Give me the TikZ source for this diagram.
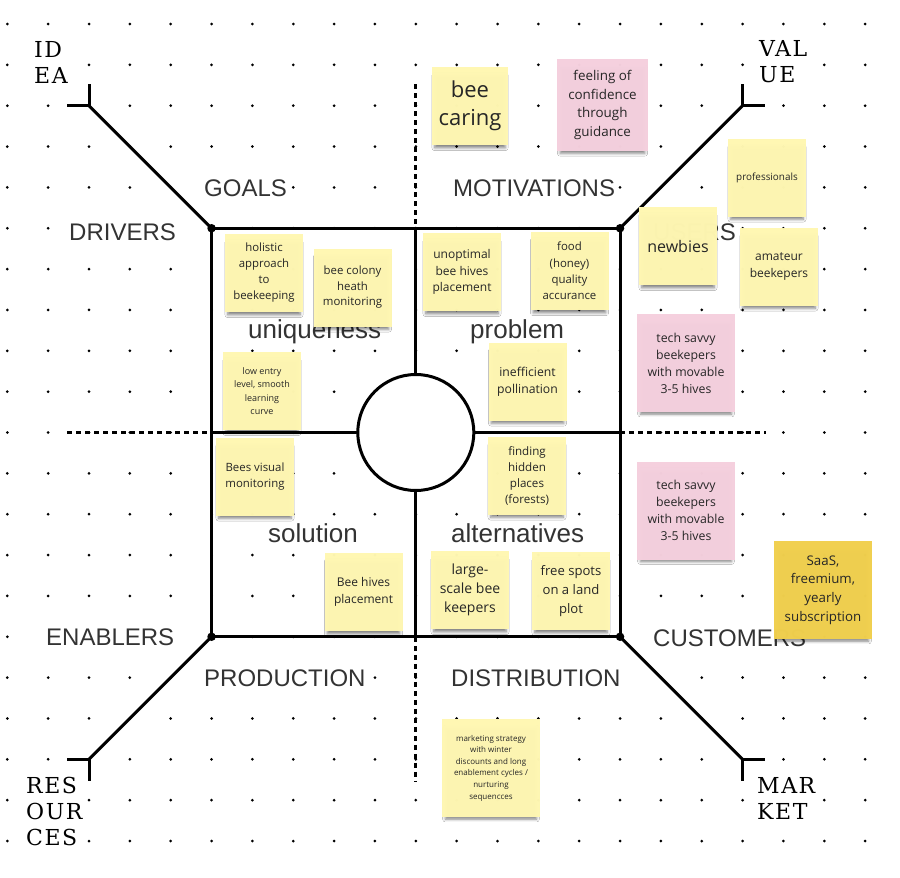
\documentclass[tikz,border=0pt]{standalone}
\usepackage{fontspec}
\setmainfont{Open Sans}
\newfontfamily\lblfont{Liberation Sans}
\newfontfamily\slabfont[LetterSpace=7]{DejaVu Serif}
\usetikzlibrary{shadows.blur}
\definecolor{noteyellow}{HTML}{FFF7B2}
\definecolor{notepink}{HTML}{F5D0DE}
\definecolor{notegold}{HTML}{F1D04E}
\definecolor{lbl}{HTML}{333333}
\definecolor{ntext}{HTML}{262626}
\newcommand{\fsz}[2]{\fontsize{#1}{#2}\selectfont}
\tikzset{
  note/.style={fill=noteyellow, fill opacity=0.98, text opacity=1, text=ntext,
    align=center, inner sep=0pt, minimum width=78pt, minimum height=78pt,
    blur shadow={shadow xshift=0pt, shadow yshift=-6pt, shadow scale=0.93, shadow blur radius=3pt, shadow opacity=50}},
  pinknote/.style={note, fill=notepink},
  goldnote/.style={note, fill=notegold},
  bignote/.style={minimum width=98pt, minimum height=98pt},
  biglbl/.style={font=\lblfont\fsz{24}{28}, text=lbl, fill=white, inner sep=1.5pt, anchor=base west},
  quadlbl/.style={font=\lblfont\fsz{26}{30}, text=lbl, inner sep=0pt, anchor=base west},
  cornerlbl/.style={font=\slabfont\fsz{22}{26}, text=black, fill=white, inner sep=2pt, align=left, anchor=north west},
  mainline/.style={line width=3pt, line cap=round, line join=round},
  dashline/.style={line width=3pt, dash pattern=on 5pt off 4pt},
  cornerdot/.style={circle, fill=black, inner sep=0pt, minimum size=8.5pt}
}
\begin{document}
\begin{tikzpicture}[x=1pt,y=-1pt]
\useasboundingbox (0,0) rectangle (900,878);
\fill[white] (0,0) rectangle (900,878);
% dot grid
\foreach \i in {0,...,21}{\foreach \j in {0,...,20}{\fill (7.3+40.85*\i, 24+40.85*\j) circle[radius=1.5pt];}}
% labels
\node[biglbl] (goals) at (202.5,196) {GOALS};
\node[biglbl] (drivers) at (67.5,240) {DRIVERS};
\node[biglbl] (motiv) at (451.5,196) {MOTIVATIONS};
\node[biglbl] (users) at (651.5,240) {USERS};
\node[biglbl] (enablers) at (44.5,645) {ENABLERS};
\node[biglbl] (customers) at (651.5,646) {CUSTOMERS};
\node[biglbl] (production) at (202.5,686) {PRODUCTION};
\node[biglbl] (distribution) at (449.5,686) {DISTRIBUTION};
\node[quadlbl] (uniq) at (248,338) {uniqueness};
\node[quadlbl] (problem) at (470,338) {problem};
\node[quadlbl] (solution) at (268,542) {solution};
\node[quadlbl] (altern) at (451,542) {alternatives};
\node[cornerlbl] (idea) at (32,39) {ID\\EA};
\node[cornerlbl] (value) at (757,38) {VAL\\UE};
\node[cornerlbl] (resources) at (24,775) {RES\\OUR\\CES};
\node[cornerlbl] (market) at (755,775) {MAR\\KET};
% coordinates
\coordinate (TL) at (211.55,228.25);
\coordinate (TR) at (620.05,228.25);
\coordinate (BL) at (211.55,636.75);
\coordinate (BR) at (620.05,636.75);
\coordinate (C) at (415.8,432.5);
\coordinate (Ttop) at (415.8,228.25);
\coordinate (Bbot) at (415.8,636.75);
\coordinate (Lmid) at (211.55,432.5);
\coordinate (Rmid) at (620.05,432.5);
\coordinate (eTL) at (89,105.7);
\coordinate (eTR) at (742.6,105.7);
\coordinate (eBL) at (89,759.3);
\coordinate (eBR) at (742.6,759.3);
\coordinate (tTLh) at (67,105.7);
\coordinate (tTLv) at (89,84);
\coordinate (tTRh) at (764.6,105.7);
\coordinate (tTRv) at (742.6,84);
\coordinate (tBLh) at (67,759.3);
\coordinate (tBLv) at (89,781);
\coordinate (tBRh) at (764.6,759.3);
\coordinate (tBRv) at (742.6,781);
\coordinate (dT) at (415.8,84);
\coordinate (dB) at (415.8,781);
\coordinate (dL) at (67,432.5);
\coordinate (dR) at (766,432.5);
% dashed axes
\draw[dashline] (dT) -- (Ttop);
\draw[dashline] (Bbot) -- (dB);
\draw[dashline] (dL) -- (Lmid);
\draw[dashline] (Rmid) -- (dR);
% main frame
\draw[mainline] (TL) -- (TR) -- (BR) -- (BL) -- cycle;
\node[circle, draw, fill=white, line width=3pt, minimum size=116pt, inner sep=0pt] (hub) at (C) {};
\draw[mainline] (Ttop) -- (hub.north);
\draw[mainline] (hub.south) -- (Bbot);
\draw[mainline] (Lmid) -- (hub.west);
\draw[mainline] (hub.east) -- (Rmid);
\draw[mainline] (TL) -- (eTL);
\draw[mainline] (TR) -- (eTR);
\draw[mainline] (BL) -- (eBL);
\draw[mainline] (BR) -- (eBR);
\draw[mainline, line cap=butt] (tTLh) -- (eTL) -- (tTLv);
\draw[mainline, line cap=butt] (tTRv) -- (eTR) -- (tTRh);
\draw[mainline, line cap=butt] (tBLh) -- (eBL) -- (tBLv);
\draw[mainline, line cap=butt] (tBRh) -- (eBR) -- (tBRv);
\node[cornerdot] (dTL) at (TL) {};
\node[cornerdot] (dTR) at (TR) {};
\node[cornerdot] (dBL) at (BL) {};
\node[cornerdot] (dBR) at (BR) {};
% sticky notes
\node[note, minimum width=76pt, font=\fsz{22}{28}] (beecaring) at (470,106) {bee\\caring};
\node[pinknote, minimum width=91pt, minimum height=92pt, font=\fsz{13.4}{18.6}] (feeling) at (602.5,105) {feeling of\\confidence\\through\\guidance};
\node[note, font=\fsz{9.9}{13}] (prof) at (767,177.5) {professionals};
\node[note, font=\fsz{16}{20}] (newbies) at (678,246) {newbies};
\node[note, font=\fsz{12}{17}] (amateur) at (779,266.5) {amateur\\beekepers};
\node[pinknote, bignote, font=\fsz{12.3}{17}] (techA) at (686,363) {tech savvy\\beekepers\\with movable\\3-5 hives};
\node[pinknote, bignote, font=\fsz{12.3}{17}] (techB) at (686,510.5) {tech savvy\\beekepers\\with movable\\3-5 hives};
\node[goldnote, bignote, font=\fsz{13.3}{18.8}] (saas) at (823,590) {SaaS,\\freemium,\\yearly\\subscription};
\node[note, font=\fsz{11.4}{16}] (holistic) at (264,273) {holistic\\approach\\to\\beekeeping};
\node[note, font=\fsz{11.4}{15.5}] (colony) at (352.5,287.5) {bee colony\\heath\\monitoring};
\node[note, font=\fsz{12}{16.7}] (unoptimal) at (462,272) {unoptimal\\bee hives\\placement};
\node[note, font=\fsz{11.4}{16.4}] (food) at (569.5,271) {food\\(honey)\\quality\\accurance};
\node[note, font=\fsz{9}{13.5}] (lowentry) at (262,391) {low entry\\level, smooth\\learning\\curve};
\node[note, font=\fsz{12.2}{16.7}] (ineff) at (527.5,381.5) {inefficient\\pollination};
\node[note, font=\fsz{11.4}{16}] (beesvisual) at (255,476.5) {Bees visual\\monitoring};
\node[note, font=\fsz{11.6}{16}] (finding) at (527,475.5) {finding\\hidden\\places\\(forests)};
\node[note, font=\fsz{12}{17}] (hivesplace) at (363.5,592) {Bee hives\\placement};
\node[note, font=\fsz{14}{19}] (largescale) at (470,590) {large-\\scale bee\\keepers};
\node[note, font=\fsz{13.1}{19}] (freespots) at (571,591) {free spots\\on a land\\plot};
\node[note, bignote, font=\fsz{8}{11.6}] (marketing) at (491,768) {marketing strategy\\with winter\\discounts and long\\enablement cycles /\\nurturing\\sequencces};
\end{tikzpicture}
\end{document}
